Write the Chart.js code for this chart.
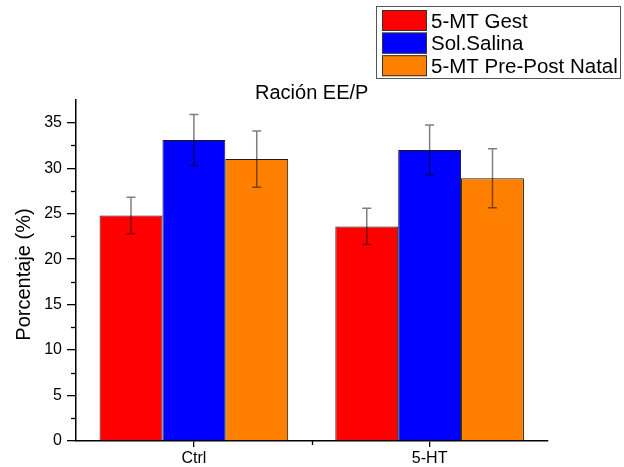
<!DOCTYPE html>
<html>
<head>
<meta charset="utf-8">
<script src="https://cdn.jsdelivr.net/npm/chart.js@4/dist/chart.umd.min.js"></script>
<style>
  html, body { margin: 0; padding: 0; background: #fff; }
  #wrap { width: 624px; height: 467px; }
</style>
</head>
<body>
<div id="wrap"><canvas id="c" width="624" height="467"></canvas></div>
<script>
// Groups and series
const categories = ['Ctrl', '5-HT'];
const seriesNames = ['5-MT Gest', 'Sol.Salina', '5-MT Pre-Post Natal'];
const gestValues = [24.8, 23.6];
const gestErrors = [2.0, 2.0];
const salinaValues = [33.1, 32.0];
const salinaErrors = [2.8, 2.75];
const prePostValues = [31.0, 28.9];
const prePostErrors = [3.1, 3.25];
const yTicks = [0, 5, 10, 15, 20, 25, 30, 35];
const chartTitle = 'Ración EE/P';
const yTitle = 'Porcentaje (%)';

const FONT = "'Liberation Sans', Arial, sans-serif";
const colors = ['#ff0000', '#0000ff', '#ff8000'];

const datasets = [
  { label: seriesNames[0], data: gestValues, errors: gestErrors },
  { label: seriesNames[1], data: salinaValues, errors: salinaErrors },
  { label: seriesNames[2], data: prePostValues, errors: prePostErrors }
].map((d, i) => Object.assign(d, {
  backgroundColor: colors[i],
  borderColor: '#1a1a1a',
  borderWidth: 1,
  borderSkipped: 'bottom',
  categoryPercentage: 0.8,
  barPercentage: 1.0
}));

// Error bars, minor ticks, title, y-axis title and boxed legend
const decorations = {
  id: 'decorations',
  afterDatasetsDraw(chart) {
    const ctx = chart.ctx;
    const y = chart.scales.y;
    ctx.save();
    ctx.strokeStyle = 'rgba(0,0,0,0.5)';
    ctx.lineWidth = 1.5;
    chart.data.datasets.forEach((ds, di) => {
      const meta = chart.getDatasetMeta(di);
      meta.data.forEach((bar, i) => {
        const v = ds.data[i], e = ds.errors[i];
        const yt = y.getPixelForValue(v + e);
        const yb = y.getPixelForValue(v - e);
        const x = bar.x;
        ctx.beginPath();
        ctx.moveTo(x, yt); ctx.lineTo(x, yb);
        ctx.moveTo(x - 4.5, yt); ctx.lineTo(x + 4.5, yt);
        ctx.moveTo(x - 4.5, yb); ctx.lineTo(x + 4.5, yb);
        ctx.stroke();
      });
    });
    ctx.restore();
  },
  afterDraw(chart) {
    const ctx = chart.ctx;
    const x = chart.scales.x, y = chart.scales.y;
    const area = chart.chartArea;
    ctx.save();
    // minor ticks on y
    ctx.strokeStyle = '#000';
    ctx.lineWidth = 1.3;
    for (let v = 2.5; v < y.max; v += 5) {
      const py = Math.round(y.getPixelForValue(v)) + 0.5;
      ctx.beginPath();
      ctx.moveTo(area.left - 5, py); ctx.lineTo(area.left, py);
      ctx.stroke();
    }
    // minor tick on x between groups
    const mid = (x.getPixelForValue(0) + x.getPixelForValue(1)) / 2;
    ctx.beginPath();
    ctx.moveTo(Math.round(mid) + 0.5, area.bottom); ctx.lineTo(Math.round(mid) + 0.5, area.bottom + 4);
    ctx.stroke();

    // chart title
    ctx.fillStyle = '#000';
    ctx.font = '20px ' + FONT;
    ctx.textAlign = 'center';
    ctx.textBaseline = 'alphabetic';
    ctx.fillText(chartTitle, (area.left + area.right) / 2, 99);

    // y-axis title
    ctx.save();
    ctx.translate(30, (area.top + area.bottom) / 2 + 4);
    ctx.rotate(-Math.PI / 2);
    ctx.font = '20px ' + FONT;
    ctx.textAlign = 'center';
    ctx.textBaseline = 'alphabetic';
    ctx.fillText(yTitle, 0, 0);
    ctx.restore();

    // legend box
    const bx = 376.5, by = 6.5, bw = 244, bh = 72;
    ctx.fillStyle = '#fff';
    ctx.fillRect(bx, by, bw, bh);
    ctx.strokeStyle = '#555';
    ctx.lineWidth = 1;
    ctx.strokeRect(bx, by, bw, bh);
    chart.data.datasets.forEach((ds, i) => {
      const top = 10 + i * 22.6;
      ctx.fillStyle = ds.backgroundColor;
      ctx.fillRect(382, top, 45, 21);
      ctx.strokeStyle = '#333';
      ctx.strokeRect(382.5, top + 0.5, 44, 20);
      ctx.fillStyle = '#000';
      ctx.font = '20.5px ' + FONT;
      ctx.textAlign = 'left';
      ctx.textBaseline = 'alphabetic';
      ctx.fillText(ds.label, 431, top + 17.5);
    });
    ctx.restore();
  }
};

new Chart(document.getElementById('c'), {
  type: 'bar',
  data: { labels: categories, datasets },
  options: {
    responsive: false,
    animation: false,
    devicePixelRatio: 1,
    layout: { padding: { left: 0, top: 100, right: 76.5, bottom: 0 } },
    plugins: {
      legend: { display: false },
      title: { display: false },
      tooltip: { enabled: false }
    },
    scales: {
      x: {
        type: 'category',
        offset: true,
        grid: { display: true, drawOnChartArea: false, drawTicks: true, tickLength: 6, offset: false, color: '#000', lineWidth: 1.3 },
        border: { display: true, color: '#000', width: 1.5 },
        ticks: { color: '#000', font: { family: FONT, size: 16 }, padding: 2, maxRotation: 0 },
        afterFit(scale) { scale.height = 26; }
      },
      y: {
        min: 0,
        max: 37.5,
        grid: { display: true, drawOnChartArea: false, drawTicks: true, tickLength: 9, color: '#000', lineWidth: 1.3 },
        border: { display: true, color: '#000', width: 1.5 },
        ticks: {
          color: '#000',
          font: { family: FONT, size: 16 },
          padding: 5,
          stepSize: 5,
          includeBounds: false,
          callback: (v) => yTicks.includes(v) ? String(v) : ''
        },
        afterFit(scale) { scale.width = 76; }
      }
    }
  },
  plugins: [decorations]
});
</script>
</body>
</html>
